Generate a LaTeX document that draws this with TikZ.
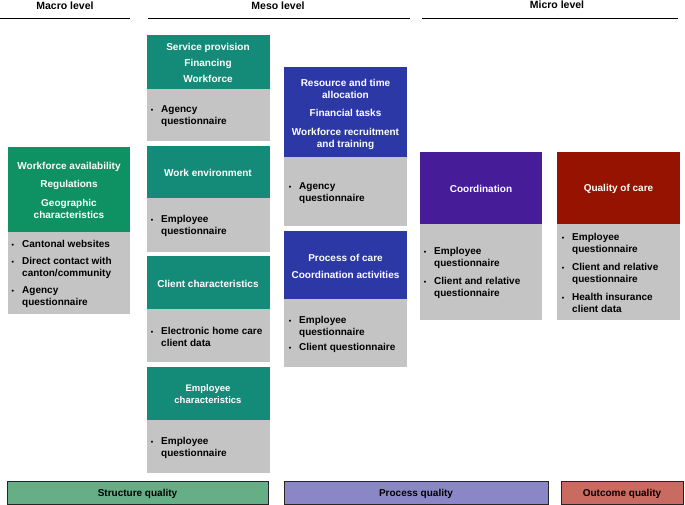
\documentclass[tikz,border=0pt]{standalone}
\usepackage{fontspec}
\setmainfont{Liberation Sans}
\definecolor{macrogreen}{HTML}{0E9263}
\definecolor{mesoteal}{HTML}{148B78}
\definecolor{mesoblue}{HTML}{2B38A6}
\definecolor{micropurple}{HTML}{461C98}
\definecolor{microred}{HTML}{951300}
\definecolor{srcgray}{HTML}{C4C4C4}
\definecolor{structbar}{HTML}{65AE86}
\definecolor{procbar}{HTML}{8B87C7}
\definecolor{outbar}{HTML}{C96B60}
\newcommand{\src}{\llap{{\fontsize{7}{7}\selectfont\textbullet}\hspace{8pt}}}

\begin{document}
\begin{tikzpicture}[x=1pt,y=-1pt,
  font=\fontsize{10}{12}\selectfont\bfseries,
  headtext/.style={text=white,align=center,inner sep=0pt},
  listtext/.style={anchor=west,align=left,inner sep=0pt},
  leveltext/.style={font=\fontsize{10.5}{12}\selectfont\bfseries,inner sep=0pt},
  bar/.style={draw=black!85,line width=0.8pt}]
\useasboundingbox (0,0) rectangle (685,505);
% levels
\node[leveltext] (macro) at (65,6) {Macro level};
\node[leveltext] (meso) at (278,6) {Meso level};
\node[leveltext] (micro) at (557,5) {Micro level};
\draw[line width=1pt] (0,19) -- (130,19);
\draw[line width=1pt] (148,19) -- (410,19);
\draw[line width=1pt] (422,19) -- (678,19);
% macro
\fill[macrogreen] (8,147) rectangle (130,232);
\fill[srcgray] (8,232) rectangle (130,314);
\node[headtext] (macrohead) at (69,190) {Workforce availability\\[6.5pt]Regulations\\[6.5pt]Geographic\\characteristics};
\node[listtext] (macrosrc) at (22,274) {\src Cantonal websites\\[5pt]\src Direct contact with\\canton/community\\[5pt]\src Agency\\questionnaire};
% meso, structure
\fill[mesoteal] (147,35) rectangle (269.5,89);
\fill[srcgray] (147,89) rectangle (269.5,141);
\node[headtext] (servhead) at (208,63) {Service provision\\[4pt]Financing\\[4pt]Workforce};
\node[listtext] (servsrc) at (161,116) {\src Agency\\questionnaire};
\fill[mesoteal] (147,146) rectangle (269.5,198.5);
\fill[srcgray] (147,198.5) rectangle (269.5,251.5);
\node[headtext] (workhead) at (208,173) {Work environment};
\node[listtext] (worksrc) at (161,226) {\src Employee\\questionnaire};
\fill[mesoteal] (147,256) rectangle (269.5,309);
\fill[srcgray] (147,309) rectangle (269.5,362);
\node[headtext] (clienthead) at (208,283.5) {Client characteristics};
\node[listtext] (clientsrc) at (161,336.5) {\src Electronic home care\\client data};
\fill[mesoteal] (147,367) rectangle (269.5,420);
\fill[srcgray] (147,420) rectangle (269.5,473);
\node[headtext,font=\fontsize{9.5}{12}\selectfont\bfseries] (emphead) at (208,394.5) {Employee\\characteristics};
\node[listtext] (empsrc) at (161,447.5) {\src Employee\\questionnaire};
% meso, process
\fill[mesoblue] (284,67) rectangle (407,157.5);
\fill[srcgray] (284,157.5) rectangle (407,226);
\node[headtext] (reshead) at (345.5,114) {Resource and time\\allocation\\[6.5pt]Financial tasks\\[6.5pt]Workforce recruitment\\and training};
\node[listtext] (ressrc) at (299,193) {\src Agency\\questionnaire};
\fill[mesoblue] (284,230.5) rectangle (407,299);
\fill[srcgray] (284,299) rectangle (407,367);
\node[headtext] (prochead) at (345.5,266.5) {Process of care\\[5pt]Coordination activities};
\node[listtext] (procsrc) at (299,334.5) {\src Employee\\questionnaire\\[3pt]\src Client questionnaire};
% micro
\fill[micropurple] (420,152) rectangle (542,224);
\fill[srcgray] (420,224) rectangle (542,320);
\node[headtext] (coordhead) at (481,189) {Coordination};
\node[listtext] (coordsrc) at (434,273) {\src Employee\\questionnaire\\[6pt]\src Client and relative\\questionnaire};
\fill[microred] (557,152) rectangle (680,224);
\fill[srcgray] (557,224) rectangle (680,320);
\node[headtext] (qualhead) at (618.5,189) {Quality of care};
\node[listtext] (qualsrc) at (572,273) {\src Employee\\questionnaire\\[6pt]\src Client and relative\\questionnaire\\[6pt]\src Health insurance\\client data};
% quality bars
\draw[bar,fill=structbar] (7,481) rectangle (268,504);
\draw[bar,fill=procbar] (284,481) rectangle (548,504);
\draw[bar,fill=outbar] (561,481) rectangle (683,504);
\node (structure) at (137.5,494) {Structure quality};
\node (process) at (416,494) {Process quality};
\node (outcome) at (622,494) {Outcome quality};
\end{tikzpicture}
\end{document}
